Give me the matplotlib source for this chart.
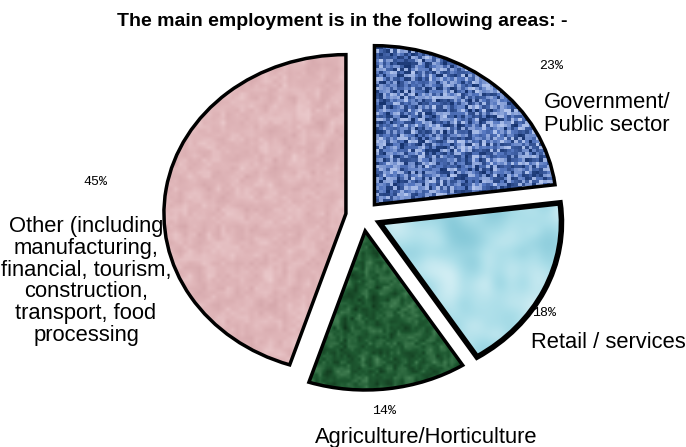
import numpy as np
import matplotlib
matplotlib.use("Agg")
import matplotlib.pyplot as plt
from matplotlib.colors import LinearSegmentedColormap

# datos del grafico
categorias = ["Government/\nPublic sector", "Retail / services",
              "Agriculture/Horticulture",
              "Other (including\nmanufacturing,\nfinancial, tourism,\nconstruction,\ntransport, food\nprocessing"]
valores = [23, 18, 14, 45]
titulo = "The main employment is in the following areas: -"

# estilos (colores de la textura: oscuro, medio, claro)
paletas = [["#16336e", "#5476bf", "#b4c6ee"],
           ["#6fbccf", "#a9dde8", "#eaf8fb"],
           ["#0e3219", "#1f5a32", "#4f8c5e"],
           ["#d4a6aa", "#e0b6b9", "#ecccce"]]
bloques = [3, 10, 3, 4]
interp = ["nearest", "bicubic", "bilinear", "bilinear"]
grosor = [2.5, 4.0, 2.5, 2.5]
explode = [0.095, 0.10, 0.095, 0.095]

W, H = 686, 447
cx, cy, rx, ry = 363, 216, 182, 159

fig = plt.figure(figsize=(W / 100, H / 100), dpi=100)
ax = fig.add_axes([0, 0, 1, 1])
wedges, _ = ax.pie(valores, startangle=90, counterclock=False, explode=explode,
                   wedgeprops=dict(edgecolor="black", linewidth=2.5))
ax.set_aspect("auto")
ax.axis("off")

# textura dentro de cada porcion (solo estilo)
rng = np.random.default_rng(3)
for w, pal, b, it, lw in zip(wedges, paletas, bloques, interp, grosor):
    cmap = LinearSegmentedColormap.from_list("t", pal)
    n = int(400 / b)
    tex = rng.random((n, n))
    if it != "nearest":
        tex = (tex + np.roll(tex, 1, 0) + np.roll(tex, 1, 1) + np.roll(tex, -1, 0)) / 4
    im = ax.imshow(tex, cmap=cmap, extent=(-1.3, 1.3, -1.3, 1.3),
                   interpolation=it, zorder=2, aspect="auto")
    im.set_clip_path(w)
    w.set_facecolor("none")
    w.set_zorder(3)
    w.set_linewidth(lw)
ax.set_xlim(-cx / rx, (W - cx) / rx)
ax.set_ylim((cy - H) / ry, cy / ry)

def fx(p):
    return p / W

def fy(q):
    return 1 - q / H

fig.text(fx(342), fy(21), titulo, ha="center", va="center",
         fontsize=14, fontweight="bold", family="Liberation Sans")

pct_pos = [(551, 66), (544, 313), (384, 411), (95, 182)]
lab_pos = [(607, 114), (608, 342), (426, 437), (86, 281)]
espacio = [1.15, 1.0, 1.0, 1.04]
for v, c, pp, lp, ls in zip(valores, categorias, pct_pos, lab_pos, espacio):
    fig.text(fx(pp[0]), fy(pp[1]), f"{v}%", ha="center", va="center",
             fontsize=9.5, family="Liberation Mono")
    fig.text(fx(lp[0]), fy(lp[1]), c, ha="center", va="center",
             fontsize=15.8, family="Liberation Sans", linespacing=ls,
             multialignment="center")

fig.savefig("out.png", dpi=100)
